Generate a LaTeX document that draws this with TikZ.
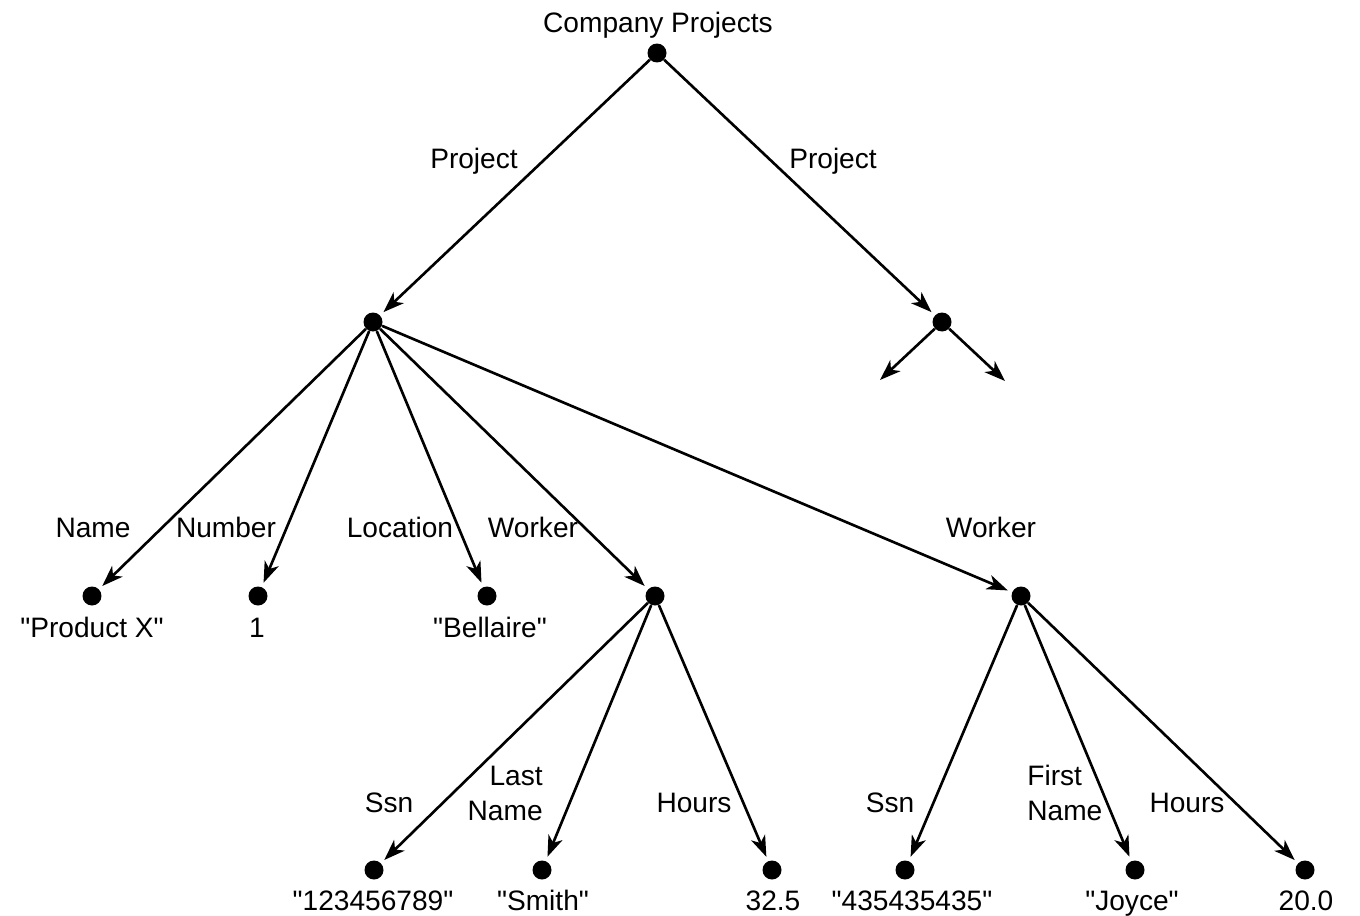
\documentclass[tikz,border=0pt]{standalone}
\usepackage{fontspec}
\setmainfont{Liberation Sans}
\usetikzlibrary{arrows.meta}
\newcommand{\qq}{\textquotedbl}
\begin{document}
\begin{tikzpicture}[x=0.02cm,y=-0.02cm,
  font=\fontsize{16}{20}\selectfont,
  dot/.style={circle,fill=black,inner sep=0pt,minimum size=0.38cm},
  lbl/.style={inner sep=0pt,anchor=base},
  arc/.style={draw=black,line width=1.5pt,-{Stealth[length=0.42cm,width=0.3cm,inset=0.12cm]},shorten >=0.09cm}]
\useasboundingbox (0,0) rectangle (1360,916);
% dots
\node[dot] (root) at (657,53) {};
\node[dot] (p1) at (373,322) {};
\node[dot] (p2) at (942,322) {};
\node[dot] (name) at (92,596) {};
\node[dot] (num) at (258,596) {};
\node[dot] (loc) at (487,596) {};
\node[dot] (w1) at (655,596) {};
\node[dot] (w2) at (1021,596) {};
\node[dot] (s1) at (374,870) {};
\node[dot] (ln) at (542,870) {};
\node[dot] (h1) at (772,870) {};
\node[dot] (s2) at (905,870) {};
\node[dot] (fn) at (1135,870) {};
\node[dot] (h2) at (1305,870) {};
\coordinate (e1) at (880,380);
\coordinate (e2) at (1005,381);
% edges
\draw[arc] (root) -- (p1);
\draw[arc] (root) -- (p2);
\draw[arc,shorten >=0pt] (p2) -- (e1);
\draw[arc,shorten >=0pt] (p2) -- (e2);
\draw[arc] (p1) -- (name);
\draw[arc] (p1) -- (num);
\draw[arc] (p1) -- (loc);
\draw[arc] (p1) -- (w1);
\draw[arc] (p1) -- (w2);
\draw[arc] (w1) -- (s1);
\draw[arc] (w1) -- (ln);
\draw[arc] (w1) -- (h1);
\draw[arc] (w2) -- (s2);
\draw[arc] (w2) -- (fn);
\draw[arc] (w2) -- (h2);
% labels
\node[lbl] (tRoot) at (658,32) {Company Projects};
\node[lbl] (tP1) at (474,168) {Project};
\node[lbl] (tP2) at (833,168) {Project};
\node[lbl] (tName) at (93,537) {Name};
\node[lbl] (tNum) at (226,537) {Number};
\node[lbl] (tLoc) at (400,537) {Location};
\node[lbl] (tW1) at (533,537) {Worker};
\node[lbl] (tW2) at (991,537) {Worker};
\node[lbl] (vName) at (92,637) {\qq Product X\qq};
\node[lbl] (vNum) at (257,637) {1};
\node[lbl] (vLoc) at (490,637) {\qq Bellaire\qq};
\node[lbl] (tS1) at (389,812) {Ssn};
\node[lbl,anchor=base east] (tLn1) at (543,785) {Last};
\node[lbl,anchor=base east] (tLn2) at (543,820) {Name};
\node[lbl] (tH1) at (694,812) {Hours};
\node[lbl] (tS2) at (890,812) {Ssn};
\node[lbl,anchor=base west] (tFn1) at (1027,785) {First};
\node[lbl,anchor=base west] (tFn2) at (1027,820) {Name};
\node[lbl] (tH2) at (1187,812) {Hours};
\node[lbl] (vS1) at (373,910) {\qq 123456789\qq};
\node[lbl] (vLn) at (543,910) {\qq Smith\qq};
\node[lbl] (vH1) at (773,910) {32.5};
\node[lbl] (vS2) at (912,910) {\qq 435435435\qq};
\node[lbl] (vFn) at (1132,910) {\qq Joyce\qq};
\node[lbl] (vH2) at (1306,910) {20.0};
\end{tikzpicture}
\end{document}
